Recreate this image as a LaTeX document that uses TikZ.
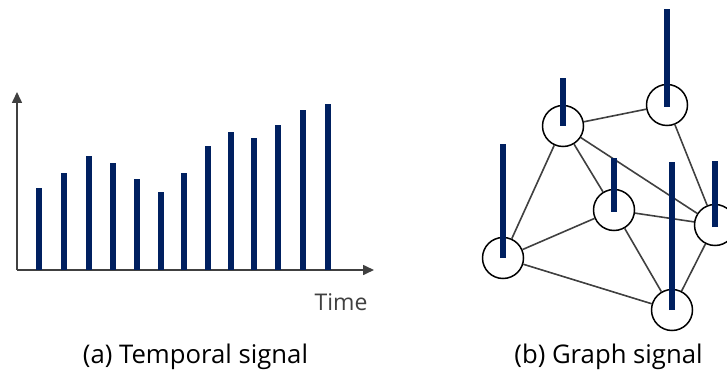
\documentclass[tikz,border=0pt]{standalone}
\usepackage{fontspec}
\setmainfont{Open Sans}
\usetikzlibrary{arrows.meta}

\definecolor{barblue}{HTML}{002060}
\definecolor{axisgray}{HTML}{404040}

\begin{document}
\begin{tikzpicture}[x=1pt, y=-1pt,
  bar/.style={barblue, line width=6pt},
  vertex/.style={circle, draw=black, line width=1.5pt, fill=white,
    minimum size=41pt, inner sep=0pt},
  edge/.style={axisgray, line width=1.6pt},
  axis/.style={axisgray, line width=1.6pt, -{Triangle[length=11pt, width=10pt]}},
  lbl/.style={font=\fontsize{25.7}{30}\selectfont}]
  \useasboundingbox (0,0) rectangle (727,379);

  % temporal signal
  \draw[axis] (17,270) -- (17,92);
  \draw[axis] (17,270) -- (374,270);
  \draw[bar] (39,270) -- (39,188);
  \draw[bar] (64,270) -- (64,173);
  \draw[bar] (89,270) -- (89,156);
  \draw[bar] (113,270) -- (113,163);
  \draw[bar] (137,270) -- (137,179);
  \draw[bar] (161,270) -- (161,192);
  \draw[bar] (184,270) -- (184,173);
  \draw[bar] (208,270) -- (208,146);
  \draw[bar] (231,270) -- (231,132);
  \draw[bar] (254,270) -- (254,138);
  \draw[bar] (278,270) -- (278,125);
  \draw[bar] (303,270) -- (303,110);
  \draw[bar] (328,270) -- (328,104);
  \node[font=\fontsize{23}{27}\selectfont, text=axisgray, anchor=east] (time) at (371,302) {Time};
  \node[lbl] (capa) at (195.5,357) {(a) Temporal signal};

  % graph signal
  \node[vertex] (va) at (503,258) {};
  \node[vertex] (vb) at (563,126) {};
  \node[vertex] (vc) at (667,105) {};
  \node[vertex] (vd) at (614,210) {};
  \node[vertex] (ve) at (715,225) {};
  \node[vertex] (vf) at (672,310) {};

  \draw[edge] (va) -- (vb);
  \draw[edge] (va) -- (vd);
  \draw[edge] (va) -- (vf);
  \draw[edge] (vb) -- (vc);
  \draw[edge] (vb) -- (vd);
  \draw[edge] (vb) -- (ve);
  \draw[edge] (vc) -- (ve);
  \draw[edge] (vd) -- (ve);
  \draw[edge] (vd) -- (vf);
  \draw[edge] (ve) -- (vf);

  \draw[bar] (va.center) -- ++(0,-114);
  \draw[bar] (vb.center) -- ++(0,-48);
  \draw[bar] ([yshift=-2pt]vc.center) -- ++(0,-98);
  \draw[bar] ([yshift=-2pt]vd.center) -- ++(0,-54);
  \draw[bar] ([yshift=-2pt]ve.center) -- ++(0,-66);
  \draw[bar] (vf.center) -- ++(0,-148);

  \node[lbl] (capb) at (608.5,357) {(b) Graph signal};
\end{tikzpicture}
\end{document}
